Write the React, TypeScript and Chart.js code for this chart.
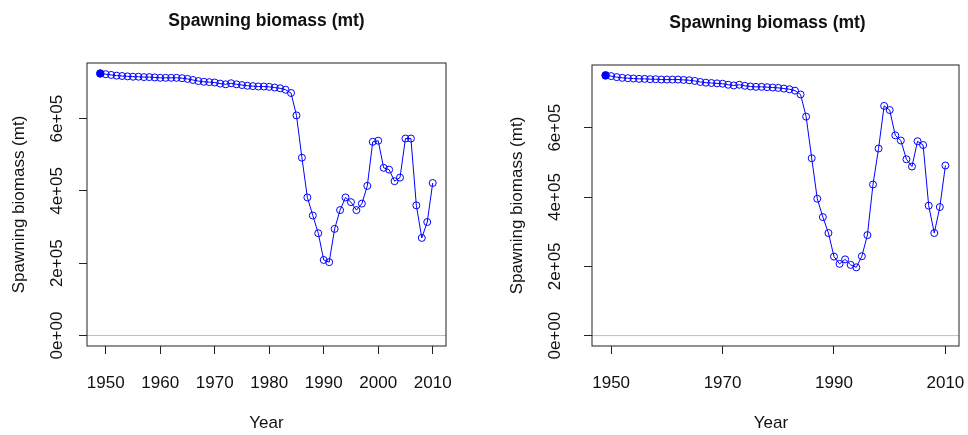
import React, { useEffect, useRef } from "react";
import { Chart, registerables } from "chart.js";

Chart.register(...registerables);

// Assessment years
const YEARS = [
  1949, 1950, 1951, 1952, 1953, 1954, 1955, 1956, 1957, 1958, 1959,
  1960, 1961, 1962, 1963, 1964, 1965, 1966, 1967, 1968, 1969,
  1970, 1971, 1972, 1973, 1974, 1975, 1976, 1977, 1978, 1979,
  1980, 1981, 1982, 1983, 1984, 1985, 1986, 1987, 1988, 1989,
  1990, 1991, 1992, 1993, 1994, 1995, 1996, 1997, 1998, 1999,
  2000, 2001, 2002, 2003, 2004, 2005, 2006, 2007, 2008, 2009, 2010,
];

// Spawning biomass (mt), first model run
const SB_RUN_A = [
  725000, 723000, 721000, 719000, 718000, 717000, 716000, 716000, 715000, 715000, 714000,
  713000, 713000, 713000, 713000, 712000, 710000, 707000, 704000, 702000, 701000,
  700000, 697000, 695000, 698000, 695000, 693000, 691000, 690000, 689000, 689000,
  688000, 686000, 684000, 680000, 671000, 609000, 492000, 382000, 332000, 283000,
  209000, 203000, 295000, 347000, 382000, 369000, 347000, 365000, 414000, 536000,
  539000, 464000, 459000, 427000, 437000, 545000, 545000, 360000, 270000, 314000, 422000,
];

// Spawning biomass (mt), second model run
const SB_RUN_B = [
  751000, 749000, 746000, 744000, 743000, 742000, 741000, 741000, 740000, 740000, 739000,
  739000, 739000, 739000, 738000, 737000, 735000, 732000, 730000, 729000, 728000,
  727000, 724000, 722000, 724000, 721000, 719000, 718000, 718000, 717000, 716000,
  715000, 713000, 711000, 707000, 696000, 632000, 512000, 395000, 342000, 296000,
  228000, 207000, 220000, 204000, 197000, 229000, 290000, 436000, 540000, 663000,
  651000, 578000, 563000, 509000, 488000, 561000, 550000, 375000, 296000, 371000, 491000,
];

const X_TICKS_A = [1950, 1960, 1970, 1980, 1990, 2000, 2010];
const X_TICKS_B = [1950, 1970, 1990, 2010];
const Y_TICKS = [0, 200000, 400000, 600000];
const Y_TICK_LABELS = ["0e+00", "2e+05", "4e+05", "6e+05"];

const TITLE = "Spawning biomass (mt)";
const Y_TITLE = "Spawning biomass (mt)";
const X_TITLE = "Year";

const W = 484;
const H = 435;
const TICK_LEN = 8;
const FONT_FAMILY = '"Liberation Sans", Arial, sans-serif';
const LABEL_FONT = `17px ${FONT_FAMILY}`;
const TITLE_FONT = `bold 17.5px ${FONT_FAMILY}`;
const TEXT_COLOR = "#111";

type Area = { left: number; top: number; right: number; bottom: number };
type TextLayout = { titleDx: number; xTitleDx: number; yTickGap: number; yTitleGap: number };

function Panel({
  values,
  xTicks,
  area,
  text,
  offsetX,
}: {
  values: number[];
  xTicks: number[];
  area: Area;
  text: TextLayout;
  offsetX: number;
}) {
  const ref = useRef<HTMLCanvasElement>(null);

  useEffect(() => {
    const canvas = ref.current;
    if (!canvas) return;

    // R-style 4% axis extension around the data range
    const xLo = Math.min(...YEARS);
    const xHi = Math.max(...YEARS);
    const xPad = (xHi - xLo) * 0.04;
    const yHi = Math.max(...values);
    const yPad = yHi * 0.04;
    const xMin = xLo - xPad;
    const xMax = xHi + xPad;

    const decor = {
      id: "decor",
      afterDraw(chart: any) {
        const { ctx, chartArea: a, scales } = chart;
        const xs = scales.x;
        const ys = scales.y;
        ctx.save();
        // plot box
        ctx.strokeStyle = "#222";
        ctx.lineWidth = 1;
        ctx.strokeRect(a.left, a.top, a.right - a.left, a.bottom - a.top);

        ctx.fillStyle = TEXT_COLOR;
        // title
        ctx.font = TITLE_FONT;
        ctx.textAlign = "center";
        ctx.textBaseline = "alphabetic";
        const cx = (a.left + a.right) / 2;
        ctx.fillText(TITLE, cx + text.titleDx, a.top - 37);

        // x tick labels and axis title
        ctx.font = LABEL_FONT;
        xTicks.forEach((t) => {
          ctx.fillText(String(t), xs.getPixelForValue(t), a.bottom + 42);
        });
        ctx.fillText(X_TITLE, cx + text.xTitleDx, a.bottom + 82);

        // y tick labels, drawn parallel to the axis
        Y_TICKS.forEach((t, i) => {
          ctx.save();
          ctx.translate(a.left - text.yTickGap, ys.getPixelForValue(t));
          ctx.rotate(-Math.PI / 2);
          ctx.fillText(Y_TICK_LABELS[i], 0, 0);
          ctx.restore();
        });

        // y axis title
        ctx.save();
        ctx.translate(a.left - text.yTitleGap, (a.top + a.bottom) / 2);
        ctx.rotate(-Math.PI / 2);
        ctx.fillText(Y_TITLE, 0, 0);
        ctx.restore();

        ctx.restore();
      },
    };

    const chart = new Chart(canvas, {
      type: "line",
      data: {
        datasets: [
          {
            data: [
              { x: xMin, y: 0 },
              { x: xMax, y: 0 },
            ],
            borderColor: "#bebebe",
            borderWidth: 1,
            pointRadius: 0,
            order: 2,
          },
          {
            data: YEARS.map((yr, i) => ({ x: yr, y: values[i] })),
            borderColor: "#0000ff",
            borderWidth: 1,
            tension: 0,
            pointRadius: values.map((_, i) => (i === 0 ? 3.8 : 3.5)),
            pointBorderWidth: 1,
            pointBorderColor: "#0000ff",
            pointBackgroundColor: values.map((_, i) => (i === 0 ? "#0000ff" : "rgba(0,0,0,0)")),
            order: 1,
          },
        ],
      },
      options: {
        animation: false,
        responsive: false,
        devicePixelRatio: 1,
        events: [],
        layout: {
          padding: {
            left: area.left - TICK_LEN,
            right: W - area.right,
            top: area.top,
            bottom: H - area.bottom - TICK_LEN,
          },
        },
        plugins: {
          legend: { display: false },
          tooltip: { enabled: false },
          title: { display: false },
        },
        scales: {
          x: {
            type: "linear",
            min: xMin,
            max: xMax,
            afterBuildTicks: (s: any) => {
              s.ticks = xTicks.map((v) => ({ value: v }));
            },
            afterFit: (s: any) => {
              s.height = TICK_LEN;
            },
            ticks: { display: false },
            grid: {
              drawOnChartArea: false,
              drawTicks: true,
              tickLength: TICK_LEN,
              tickColor: "#222",
              tickWidth: 1,
            },
            border: { display: false },
          },
          y: {
            type: "linear",
            min: -yPad,
            max: yHi + yPad,
            afterBuildTicks: (s: any) => {
              s.ticks = Y_TICKS.map((v) => ({ value: v }));
            },
            afterFit: (s: any) => {
              s.width = TICK_LEN;
            },
            ticks: { display: false },
            grid: {
              drawOnChartArea: false,
              drawTicks: true,
              tickLength: TICK_LEN,
              tickColor: "#222",
              tickWidth: 1,
            },
            border: { display: false },
          },
        },
      },
      plugins: [decor],
    } as any);

    return () => chart.destroy();
  }, [values, xTicks, area, text]);

  return (
    <canvas
      ref={ref}
      width={W}
      height={H}
      style={{ position: "absolute", left: offsetX, top: 0, width: W, height: H }}
    />
  );
}

const AREA_A: Area = { left: 87, top: 63, right: 446, bottom: 346 };
const AREA_B: Area = { left: 108, top: 65, right: 475, bottom: 346 };
const TEXT_A: TextLayout = { titleDx: 0, xTitleDx: 0, yTickGap: 25.5, yTitleGap: 63 };
const TEXT_B: TextLayout = { titleDx: -8, xTitleDx: -4.5, yTickGap: 32, yTitleGap: 70 };

export default function App() {
  return (
    <div style={{ position: "fixed", left: 0, top: 0, width: 968, height: 435, background: "#fff" }}>
      <Panel values={SB_RUN_A} xTicks={X_TICKS_A} area={AREA_A} text={TEXT_A} offsetX={0} />
      <Panel values={SB_RUN_B} xTicks={X_TICKS_B} area={AREA_B} text={TEXT_B} offsetX={484} />
    </div>
  );
}
